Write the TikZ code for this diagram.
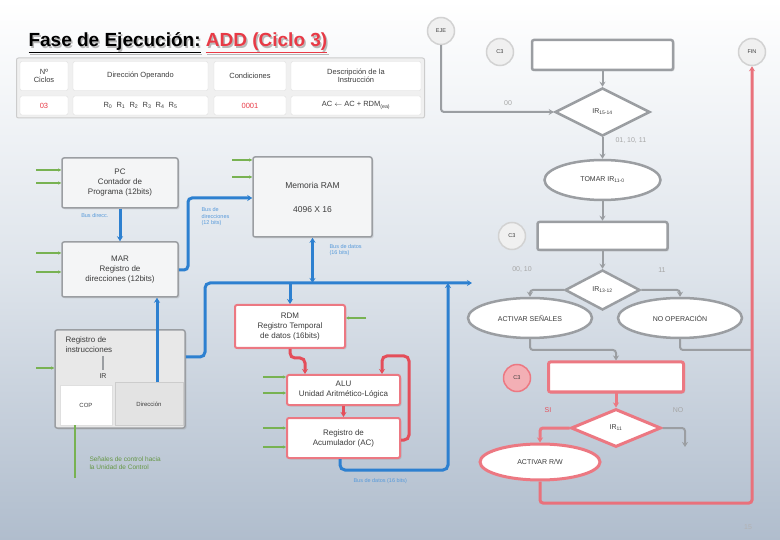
\documentclass[tikz,border=0pt]{standalone}
\usepackage{fontspec}
\setmainfont{Liberation Sans}
\usetikzlibrary{arrows.meta,shapes.geometric,shadows,calc}
\definecolor{gline}{RGB}{155,158,162}
\definecolor{rline}{RGB}{228,78,90}
\definecolor{rsoft}{RGB}{236,120,130}
\definecolor{bline}{RGB}{45,128,208}
\definecolor{gr}{RGB}{120,178,82}
\definecolor{bgbot}{RGB}{176,189,205}
\definecolor{bgmid}{RGB}{222,228,235}
\definecolor{boxfill}{RGB}{244,245,246}
\definecolor{txt}{RGB}{60,60,60}
\definecolor{ttlred}{RGB}{232,58,70}
\begin{document}
\begin{tikzpicture}[x=1pt,y=-1pt,
  box/.style={draw=gline,line width=1.5pt,fill=boxfill,rounded corners=2pt,align=center,
    font=\fontsize{8}{10}\selectfont,text=txt,inner sep=1pt,
    drop shadow={opacity=0.2,shadow xshift=1.5pt,shadow yshift=-1.5pt}},
  rbox/.style={box,draw=rsoft,line width=2pt,fill=white},
  cell/.style={draw=gray!25,fill=white,rounded corners=2pt,align=center,
    font=\fontsize{7.5}{8.5}\selectfont,text=txt,inner sep=1pt},
  bus/.style={draw=bline,line width=3pt},
  rbus/.style={draw=rline,line width=3pt},
  fl/.style={draw=gline,line width=2pt},
  rfl/.style={draw=rsoft,line width=3pt},
  sig/.style={draw=gr,line width=1.2pt,-{Stealth[length=3pt,width=3pt]}},
  fbox/.style={draw=gline,line width=2.5pt,fill=white,rounded corners=2pt,
    drop shadow={opacity=0.2,shadow xshift=1.5pt,shadow yshift=-1.5pt}},
  frbox/.style={fbox,draw=rsoft,line width=3pt},
  dia/.style={diamond,draw=gline,line width=2.5pt,fill=white,inner sep=0pt,
    font=\fontsize{7}{8}\selectfont,text=txt},
  ell/.style={ellipse,draw=gline,line width=2.5pt,fill=white,inner sep=0pt,
    font=\fontsize{7}{8}\selectfont,text=txt},
  circ/.style={circle,draw=gray!35,line width=1.5pt,fill=gray!12,inner sep=0pt,
    minimum size=27pt,font=\fontsize{5.5}{6.5}\selectfont,text=txt},
  lab/.style={font=\fontsize{7}{8}\selectfont,text=gray!70},
  blab/.style={font=\fontsize{5.5}{6.5}\selectfont,text=bline!80,align=left},
  tip/.style={-{Stealth[length=5pt,width=6pt]}}
]
\useasboundingbox (0,0) rectangle (780,540);
\shade[top color=white,bottom color=bgbot,middle color=bgmid] (0,0) rectangle (780,540);

% ---------------- title ----------------
\node[anchor=west,text=gray!55,font=\fontsize{19}{22}\selectfont\bfseries] at (26.5,44.5)
  {\underline{Fase de Ejecución:} \underline{ADD (Ciclo 3)}};
\node[anchor=west,font=\fontsize{19}{22}\selectfont\bfseries] (title) at (25,43)
  {\underline{Fase de Ejecución:} \textcolor{ttlred}{\underline{ADD (Ciclo 3)}}};

% ---------------- table ----------------
\node[draw=gray!40,line width=1pt,fill=gray!12,rounded corners=2pt,minimum width=408pt,
  minimum height=60pt] (tab) at (220.5,88) {};
\node[cell,minimum width=48pt,minimum height=29pt] (h1) at (44,76) {Nº\\Ciclos};
\node[cell,minimum width=135pt,minimum height=29pt] (h2) at (140.5,76) {Dirección Operando};
\node[cell,minimum width=72pt,minimum height=29pt] (h3) at (250,76) {Condiciones};
\node[cell,minimum width=130pt,minimum height=29pt] (h4) at (356,76) {Descripción de la\\Instrucción};
\node[cell,minimum width=48pt,minimum height=19pt,text=ttlred] (v1) at (44,105.5) {03};
\node[cell,minimum width=135pt,minimum height=19pt] (v2) at (140.5,105.5)
  {R\textsubscript{0}\; R\textsubscript{1}\; R\textsubscript{2}\; R\textsubscript{3}\; R\textsubscript{4}\; R\textsubscript{5}};
\node[cell,minimum width=72pt,minimum height=19pt,text=ttlred] (v3) at (250,105.5) {0001};
\node[cell,minimum width=130pt,minimum height=19pt] (v4) at (356,105.5)
  {AC $\leftarrow$ AC + RDM\textsubscript{(ea)}};

% ---------------- left datapath ----------------
\node[box,minimum width=116pt,minimum height=50pt] (pc) at (120,183)
  {PC\\Contador de\\Programa (12bits)};
\node[box,minimum width=116pt,minimum height=55pt] (mar) at (120,269.5)
  {MAR\\Registro de\\direcciones (12bits)};
\node[box,minimum width=119pt,minimum height=80pt,font=\fontsize{8.5}{10}\selectfont] (ram) at (312.5,197)
  {Memoria RAM\\[14pt]4096 X 16};

% IR block
\node[box,fill=gray!18,minimum width=130pt,minimum height=98pt] (ir) at (120,379) {};
\node[anchor=north west,align=left,font=\fontsize{8}{10}\selectfont,text=txt] (irt) at (62,333)
  {Registro de\\instrucciones};
\node[font=\fontsize{7}{8}\selectfont,text=txt] (irn) at (103,376) {IR};
\draw[gline,line width=1.5pt] (irt.south -| irn) -- (irn.north);
\node[draw=gray!25,fill=white,minimum width=52pt,minimum height=40pt,
  font=\fontsize{6}{7}\selectfont,text=txt] (cop) at (86,405) {COP};
\node[draw=gray!40,fill=gray!22,minimum width=68pt,minimum height=43pt,
  font=\fontsize{6}{7}\selectfont,text=txt] (dir) at (149,404) {Dirección};

\node[rbox,minimum width=110pt,minimum height=43pt] (rdm) at (290,326.5)
  {RDM\\Registro Temporal\\de datos (16bits)};
\node[rbox,minimum width=113pt,minimum height=30pt] (alu) at (343.5,390)
  {ALU\\Unidad Aritmético-Lógica};
\node[rbox,minimum width=113pt,minimum height=40pt] (ac) at (343.5,438)
  {Registro de\\Acumulador (AC)};

% green control signals
\foreach \yy/\nm in {170/pc,183/pc,253/mar,272/mar,368/ir}{
  \coordinate (s) at (36,\yy);
  \draw[sig] (s) -- (\nm.west |- s);
}
\foreach \yy in {160,177}{\coordinate (s) at (232,\yy); \draw[sig] (s) -- (ram.west |- s);}
\foreach \yy in {377,393}{\coordinate (s) at (263,\yy); \draw[sig] (s) -- (alu.west |- s);}
\foreach \yy in {428,447}{\coordinate (s) at (263,\yy); \draw[sig] (s) -- (ac.west |- s);}
\coordinate (s) at (366,318); \draw[sig] (s) -- (rdm.east |- s);
\coordinate (g1) at (75,478);
\draw[gr,line width=1.5pt] (cop.south -| g1) -- (g1);
\node[anchor=west,align=left,font=\fontsize{6.5}{7.5}\selectfont,text=gr!85!black] (gtxt) at (86,463)
  {Señales de control hacia\\la Unidad de Control};

% blue buses
\draw[bus,tip] (pc.south) -- (mar.north);
\node[blab,anchor=east] (bl1) at (112,216) {Bus direcc.};
\draw[bus,tip,rounded corners=4pt] (mar.east |- 0,270) -- (188,270) -- (188,198) -- (ram.west |- 0,198);
\node[blab,anchor=north west] (bl2) at (198,204) {Bus de\\direcciones\\(12 bits)};
\coordinate (busr) at (472,283);
\coordinate (busl) at (205,283);
\draw[bus,tip,rounded corners=5pt] (ir.east |- 0,357) -- (205,357) -- (busl) -- (busr);
\draw[bus,{Stealth[length=5pt,width=6pt]}-{Stealth[length=5pt,width=6pt]}] (ram.south) -- (ram.south |- busl);
\node[blab,anchor=west] (bl3) at (326,250) {Bus de datos\\(16 bits)};
\draw[bus,tip] (rdm.north |- busl) -- (rdm.north);
\draw[bus,tip] (dir.north -| 157,0) -- (mar.south -| 157,0);
\draw[bus,tip,rounded corners=5pt] (ac.south -| 340,0) -- (340,470) -- (448,470) -- (448,283);
\node[blab,anchor=west] (bl4) at (350,481) {Bus de datos (16 bits)};

% red datapath
\draw[rbus,tip,rounded corners=5pt] (rdm.south) -- (290,358) -- (305,358) -- (alu.north -| 305,0);
\draw[rbus,tip,rounded corners=5pt] (ac.east |- 0,440) -- (409,440) -- (409,356) -- (382,356) -- (alu.north -| 382,0);
\draw[rbus,tip] (alu.south) -- (ac.north);

% ---------------- flowchart ----------------
\node[circ] (c0) at (441,31) {EJE};
\node[circ] (c1) at (500,52) {C3};
\node[fbox,minimum width=141pt,minimum height=30pt] (r1) at (602.5,55) {};
\node[dia,minimum width=95pt,minimum height=48pt] (d1) at (602.5,112) {IR\textsubscript{15-14}};
\node[ell,minimum width=116pt,minimum height=40pt] (e1) at (602.5,180) {TOMAR IR\textsubscript{11-0}};
\node[circ] (c2) at (512,236) {C3};
\node[fbox,minimum width=130pt,minimum height=28pt] (r2) at (602.5,236) {};
\node[dia,minimum width=75pt,minimum height=40pt] (d2) at (602.5,290) {IR\textsubscript{13-12}};
\node[ell,minimum width=124pt,minimum height=40pt] (e2) at (530,318) {ACTIVAR SEÑALES};
\node[ell,minimum width=124pt,minimum height=40pt] (e3) at (680,318) {NO OPERACIÓN};
\node[circ,draw=rsoft,fill=rline!45] (c3) at (517,378) {C3};
\node[frbox,minimum width=135pt,minimum height=30pt] (r3) at (616,377) {};
\node[dia,draw=rsoft,line width=3pt,minimum width=90pt,minimum height=38pt] (d3) at (616,428) {IR\textsubscript{11}};
\node[ell,draw=rsoft,line width=3pt,minimum width=120pt,minimum height=36pt] (e4) at (540,462) {ACTIVAR R/W};
\node[circ] (c4) at (752,52) {FIN};

\draw[fl,tip,rounded corners=3pt] (c0.south) -- (441,112) -- (d1.west);
\node[lab] (l0) at (508,103) {00};
\draw[fl,tip] (r1.south) -- (d1.north);
\draw[fl,tip] (d1.south) -- (e1.north);
\node[lab,anchor=west] (l1) at (612,141) {01, 10, 11};
\draw[fl,tip] (e1.south) -- (r2.north);
\draw[fl,tip] (r2.south) -- (d2.north);
\draw[fl,tip,rounded corners=3pt] (d2.west) -- (530,290) -- (e2.north);
\draw[fl,tip,rounded corners=3pt] (d2.east) -- (680,290) -- (e3.north);
\node[lab] (l2) at (522,270) {00, 10};
\node[lab] (l3) at (662,270) {11};
\draw[fl,tip,rounded corners=3pt] (e2.south) -- (530,350) -- (616,350) -- (r3.north);
\draw[fl,rounded corners=3pt] (e3.south) -- (680,350) -- (752,350);
\draw[rfl,tip] (r3.south) -- (d3.north);
\draw[rfl,tip,rounded corners=3pt] (d3.west) -- (540,428) -- (e4.north);
\node[lab,text=rline] (l4) at (548,410) {SI};
\draw[fl,tip,rounded corners=3pt] (d3.east) -- (685,428) -- (685,447);
\node[lab] (l5) at (678,410) {NO};
\draw[draw=rline!80,line width=3pt,tip,rounded corners=3pt] (e4.south) -- (540,503) -- (752,503) -- (c4.south);

\node[font=\fontsize{7}{8}\selectfont,text=gray!60] (pg) at (748,527) {15};
\end{tikzpicture}
\end{document}
